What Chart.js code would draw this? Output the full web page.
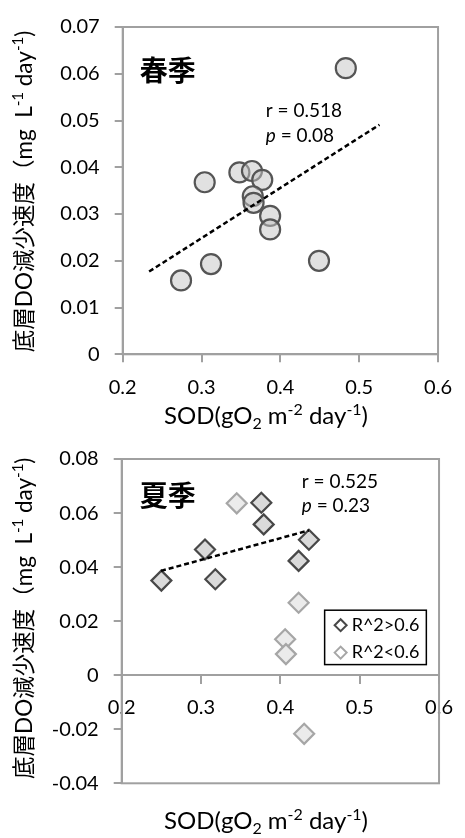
<!DOCTYPE html>
<html><head><meta charset="utf-8">
<script src="https://cdn.jsdelivr.net/npm/chart.js@4"></script>
<style>
html,body{margin:0;padding:0;background:#fff;}
canvas{display:block;}
</style></head><body>
<canvas id="c1" width="465" height="432"></canvas>
<canvas id="c2" width="465" height="406"></canvas>
<script>
// ---------- data ----------
const springSOD = [0.483, 0.304, 0.348, 0.364, 0.377, 0.365, 0.366, 0.387, 0.387, 0.312, 0.274, 0.449];
const springDO  = [0.0612, 0.0368, 0.0389, 0.0392, 0.0373, 0.0338, 0.0324, 0.0296, 0.0267, 0.0193, 0.0158, 0.0200];
const springTrendSOD = [0.2335, 0.5257];
const springTrendDO  = [0.0177, 0.0491];

const summerHighSOD = [0.250, 0.305, 0.318, 0.376, 0.379, 0.436, 0.423];
const summerHighDO  = [0.0350, 0.0465, 0.0355, 0.0638, 0.0558, 0.0501, 0.0423];
const summerLowSOD  = [0.345, 0.423, 0.406, 0.407, 0.430];
const summerLowDO   = [0.0636, 0.0268, 0.0133, 0.0078, -0.0217];
const summerTrendSOD = [0.2495, 0.436];
const summerTrendDO  = [0.0386, 0.0536];

const xTickValues = [0.2, 0.3, 0.4, 0.5, 0.6];
const xTickLabels = ['0.2', '0.3', '0.4', '0.5', '0.6'];
const springYTickValues = [0, 0.01, 0.02, 0.03, 0.04, 0.05, 0.06, 0.07];
const springYTickLabels = ['0', '0.01', '0.02', '0.03', '0.04', '0.05', '0.06', '0.07'];
const summerYTickValues = [-0.04, -0.02, 0, 0.02, 0.04, 0.06, 0.08];
const summerYTickLabels = ['-0.04', '-0.02', '0', '0.02', '0.04', '0.06', '0.08'];

// axis titles as rich-text segments (s = superscript, b = subscript)
const xTitle = [{t: 'SOD(gO'}, {t: '2', b: 1}, {t: ' m'}, {t: '-2', s: 1}, {t: ' day'}, {t: '-1', s: 1}, {t: ')'}];
const yTitle = [{t: '底層DO減少速度（mg  L'}, {t: '-1', s: 1}, {t: ' day'}, {t: '-1', s: 1}, {t: ')'}];
const springLabel = '春季';
const summerLabel = '夏季';
const springStats = ['r = 0.518', ' = 0.08'];
const summerStats = ['r = 0.525', ' = 0.23'];
const seriesLabels = ['R^2>0.6', 'R^2<0.6'];

// ---------- styles ----------
const FONT = "Lato, 'Noto Sans CJK JP', sans-serif";
Chart.defaults.font.family = FONT;
Chart.defaults.color = '#000';
const AXIS_GRAY = '#a0a0a0';

const toXY = (xs, ys) => xs.map((x, i) => ({x, y: ys[i]}));
function setTicks(values) {
  return s => { s.ticks = values.map(v => ({value: v})); };
}

function drawRich(ctx, segs, cx, baseY, size) {
  const main = size + 'px ' + FONT, small = Math.round(size * 0.65) + 'px ' + FONT;
  let total = 0;
  segs.forEach(sg => { ctx.font = (sg.s || sg.b) ? small : main; total += ctx.measureText(sg.t).width; });
  let x = cx - total / 2;
  ctx.textAlign = 'left';
  ctx.textBaseline = 'alphabetic';
  segs.forEach(sg => {
    ctx.font = (sg.s || sg.b) ? small : main;
    const dy = sg.s ? -size * 0.38 : (sg.b ? size * 0.2 : 0);
    ctx.fillText(sg.t, x, baseY + dy);
    x += ctx.measureText(sg.t).width;
  });
}

const frame = {
  id: 'frame',
  beforeDatasetsDraw(chart) {
    const {ctx, chartArea: a} = chart;
    ctx.save();
    ctx.strokeStyle = AXIS_GRAY;
    ctx.lineWidth = 2;
    ctx.strokeRect(a.left, a.top, a.right - a.left, a.bottom - a.top);
    ctx.restore();
  }
};

function annotations(cfg) {
  return {
    id: 'notes',
    afterDatasetsDraw(chart) {
      const {ctx} = chart;
      const sx = chart.scales.x, sy = chart.scales.y;
      ctx.save();
      ctx.fillStyle = '#000';
      ctx.textBaseline = 'middle';
      ctx.font = "bold 28px 'Noto Sans CJK JP', sans-serif";
      ctx.textAlign = 'center';
      ctx.fillText(cfg.season, sx.getPixelForValue(cfg.seasonAt[0]), sy.getPixelForValue(cfg.seasonAt[1]));
      ctx.textAlign = 'left';
      const x0 = sx.getPixelForValue(cfg.statsAt[0]);
      ctx.font = '19px ' + FONT;
      ctx.fillText(cfg.stats[0], x0, sy.getPixelForValue(cfg.statsAt[1]));
      const yp = sy.getPixelForValue(cfg.statsAt[2]);
      ctx.font = 'italic 19px ' + FONT;
      ctx.fillText('p', x0, yp);
      const w = ctx.measureText('p').width;
      ctx.font = '19px ' + FONT;
      ctx.fillText(cfg.stats[1], x0 + w, yp);
      ctx.restore();
    }
  };
}

function axisTitles(cfg) {
  return {
    id: 'axisTitles',
    afterDraw(chart) {
      const {ctx} = chart;
      ctx.save();
      ctx.fillStyle = '#000';
      drawRich(ctx, xTitle, cfg.xCenter, cfg.xBase, 24);
      ctx.translate(cfg.yBase, cfg.yCenter);
      ctx.rotate(-Math.PI / 2);
      drawRich(ctx, yTitle, 0, 0, 22.5);
      ctx.restore();
    }
  };
}

function xScale(pad, extra) {
  return Object.assign({
    type: 'linear', min: 0.2, max: 0.6,
    afterBuildTicks: setTicks(xTickValues),
    ticks: {callback: (v, i) => xTickLabels[i], font: {size: 20}, color: '#000', padding: pad, maxRotation: 0, autoSkip: false},
    grid: {drawOnChartArea: false, tickLength: 8, color: AXIS_GRAY, lineWidth: 2},
    border: {color: AXIS_GRAY, width: 2}
  }, extra);
}

function yScale(min, max, vals, labels, w) {
  return {
    type: 'linear', min, max,
    afterBuildTicks: setTicks(vals),
    ticks: {callback: (v, i) => labels[i], font: {size: 20}, color: '#000', padding: 15, autoSkip: false},
    grid: {drawOnChartArea: false, tickLength: 8, color: AXIS_GRAY, lineWidth: 2},
    border: {color: AXIS_GRAY, width: 2},
    afterFit: s => { s.width = w; }
  };
}

const trendStyle = {showLine: true, pointRadius: 0, borderColor: '#000', borderWidth: 2.5, borderDash: [5, 3], order: 0};

// ---------- spring chart ----------
new Chart(document.getElementById('c1'), {
  type: 'scatter',
  data: {
    datasets: [
      Object.assign({label: 'trend', data: toXY(springTrendSOD, springTrendDO)}, trendStyle),
      {label: springLabel, data: toXY(springSOD, springDO), pointStyle: 'circle', pointRadius: 10,
       pointBackgroundColor: 'rgba(195,195,195,0.5)', pointBorderColor: '#555', pointBorderWidth: 2.2, order: 1}
    ]
  },
  options: {
    responsive: false, animation: false,
    layout: {padding: {top: 21, right: 17.3, bottom: 0, left: 0}},
    plugins: {legend: {display: false}, tooltip: {enabled: false}},
    scales: {
      x: xScale(13, {afterFit: s => { s.height = 77.7; }}),
      y: yScale(0, 0.07, springYTickValues, springYTickLabels, 122.7)
    }
  },
  plugins: [frame, annotations({season: springLabel, seasonAt: [0.257, 0.0607], stats: springStats, statsAt: [0.3815, 0.0521, 0.0467]}),
            axisTitles({xCenter: 266, xBase: 424, yBase: 32, yCenter: 191.5})]
});

// ---------- summer chart ----------
const legendBox = {
  id: 'legendBox',
  afterDraw(chart) {
    const {ctx, chartArea: a} = chart;
    const y0 = chart.scales.y.getPixelForValue(0);
    const right = a.right - 12.7, bottom = y0 - 10.6;
    const left = right - 101.7, top = bottom - 54.4;
    ctx.save();
    ctx.fillStyle = '#fff';
    ctx.fillRect(left, top, right - left, bottom - top);
    ctx.strokeStyle = '#000';
    ctx.lineWidth = 1.5;
    ctx.strokeRect(left, top, right - left, bottom - top);
    const ds = chart.data.datasets.filter(d => seriesLabels.includes(d.label));
    ds.forEach((d, i) => {
      const cy = top + 15 + i * 27.4, cx = left + 16;
      const r = 6;
      ctx.beginPath();
      ctx.moveTo(cx - r, cy); ctx.lineTo(cx, cy - r); ctx.lineTo(cx + r, cy); ctx.lineTo(cx, cy + r); ctx.closePath();
      ctx.fillStyle = '#fff';
      ctx.fill();
      ctx.lineWidth = 2;
      ctx.strokeStyle = d.pointBorderColor;
      ctx.stroke();
      ctx.fillStyle = '#000';
      ctx.font = '18px ' + FONT;
      ctx.textAlign = 'left';
      ctx.textBaseline = 'middle';
      ctx.fillText(d.label, cx + 11, cy);
    });
    ctx.restore();
  }
};

new Chart(document.getElementById('c2'), {
  type: 'scatter',
  data: {
    datasets: [
      Object.assign({label: 'trend', data: toXY(summerTrendSOD, summerTrendDO)}, trendStyle),
      {label: seriesLabels[0], data: toXY(summerHighSOD, summerHighDO), pointStyle: 'rectRot', pointRadius: 10,
       pointBackgroundColor: '#dadada', pointBorderColor: '#484848', pointBorderWidth: 2.2, order: 1},
      {label: seriesLabels[1], data: toXY(summerLowSOD, summerLowDO), pointStyle: 'rectRot', pointRadius: 10,
       pointBackgroundColor: '#ebebeb', pointBorderColor: '#a6a6a6', pointBorderWidth: 2.2, order: 2}
    ]
  },
  options: {
    responsive: false, animation: false,
    layout: {padding: {top: 20.3, right: 17.3, bottom: 54.7, left: 0}},
    plugins: {legend: {display: false}, tooltip: {enabled: false}},
    scales: {
      x: xScale(12, {position: {y: 0}}),
      y: yScale(-0.04, 0.08, summerYTickValues, summerYTickLabels, 121.7)
    }
  },
  plugins: [frame, annotations({season: summerLabel, seasonAt: [0.258, 0.0664], stats: summerStats, statsAt: [0.427, 0.0716, 0.0628]}),
            legendBox, axisTitles({xCenter: 266, xBase: 397.3, yBase: 32, yCenter: 186.3})]
});
</script>
</body></html>
